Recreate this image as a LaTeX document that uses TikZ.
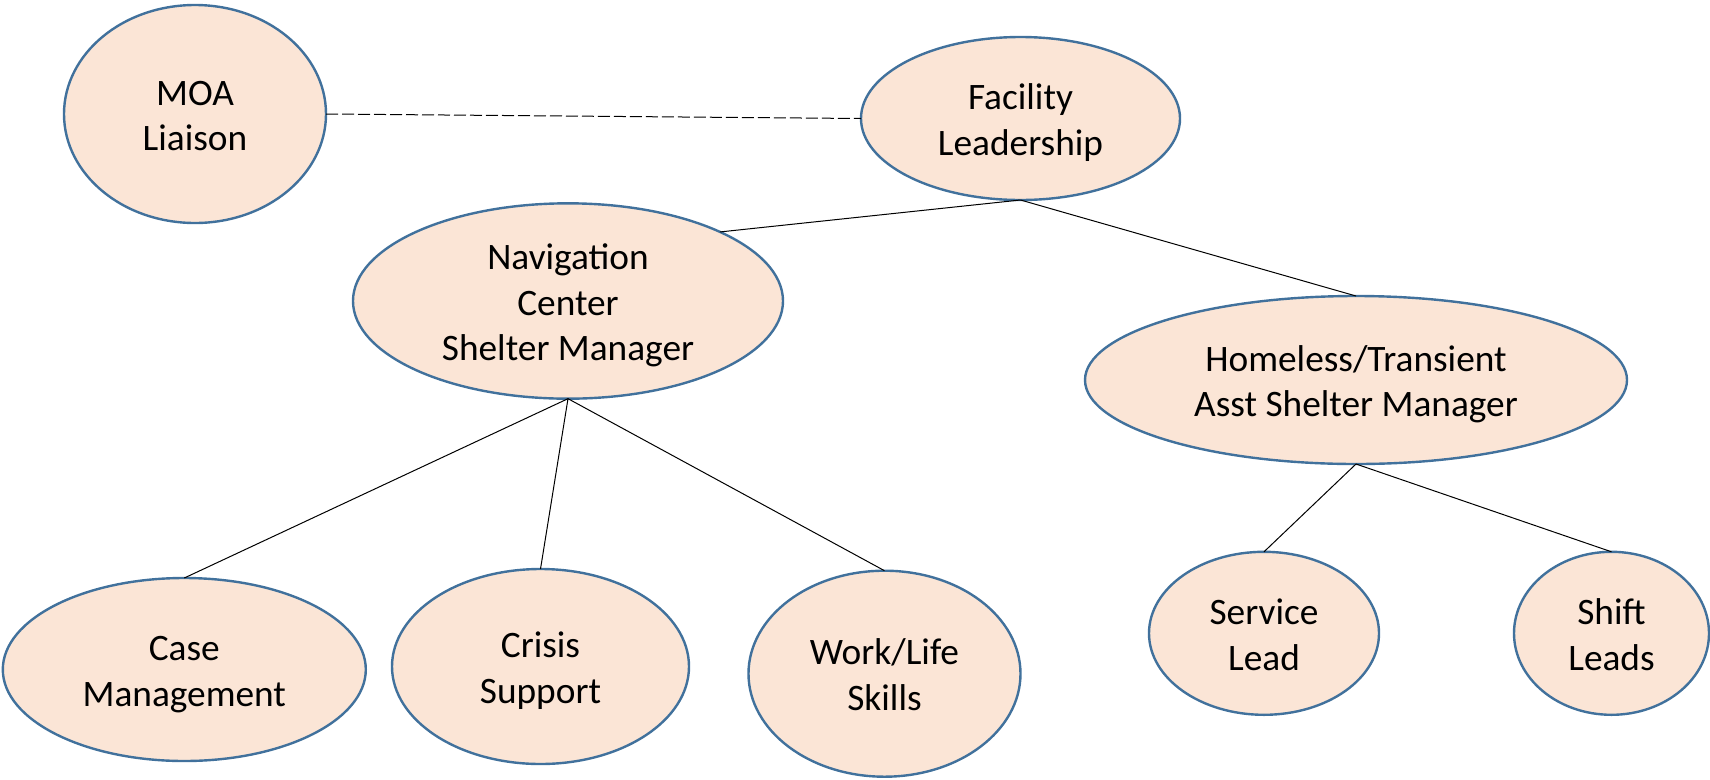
\documentclass[tikz,border=0pt]{standalone}
\usepackage{fontspec}
\setmainfont{Carlito}
\usetikzlibrary{shapes.geometric}
\definecolor{bubblefill}{HTML}{FBE5D6}
\definecolor{bubbleline}{HTML}{41719C}
\newcommand\bubbletop{\rule{0pt}{1em}}
\begin{document}
\begin{tikzpicture}[x=0.75pt,y=-0.75pt,
    bubble/.style 2 args={ellipse,draw=bubbleline,fill=bubblefill,line width=1.8pt,
      inner sep=0pt,outer sep=0pt,align=center,
      font=\fontsize{28}{34.3}\selectfont,
      execute at end node={\rule[-0.25em]{0pt}{0pt}},
      minimum width=#1*0.75pt,minimum height=#2*0.75pt},
    link/.style={line width=0.75pt,black}]
  \useasboundingbox (0,0) rectangle (1710,779);
  % top row
  \node[bubble={262}{218}] (moa) at (195,114) {\bubbletop MOA\\Liaison};
  \node[bubble={319}{163}] (fac) at (1020.5,118.5) {\bubbletop Facility\\Leadership};
  % managers
  \node[bubble={430}{192}] (nav) at (568,301) {\bubbletop Navigation\\Center\\Shelter Manager};
  \node[bubble={542}{168}] (hom) at (1356,380) {\bubbletop Homeless/Transient\\Asst Shelter Manager};
  % bottom row
  \node[bubble={363}{183}] (case) at (184.3,669.5) {\bubbletop Case\\Management};
  \node[bubble={297}{195}] (crisis) at (540.5,666.5) {\bubbletop Crisis\\Support};
  \node[bubble={272}{206}] (work) at (884.5,673.7) {\bubbletop Work/Life\\Skills};
  \node[bubble={230}{163}] (serv) at (1264,633.3) {\bubbletop Service\\Lead};
  \node[bubble={195}{163}] (shift) at (1611.5,633.3) {\bubbletop Shift\\Leads};
  % connectors
  \draw[link,dash pattern=on 9pt off 3pt] (moa.east) -- (fac.west);
  \draw[link] (fac.south) -- (nav.north east);
  \draw[link] (fac.south) -- (hom.north);
  \draw[link] (nav.south) -- (case.north);
  \draw[link] (nav.south) -- (crisis.north);
  \draw[link] (nav.south) -- (work.north);
  \draw[link] (hom.south) -- (serv.north);
  \draw[link] (hom.south) -- (shift.north);
\end{tikzpicture}
\end{document}
